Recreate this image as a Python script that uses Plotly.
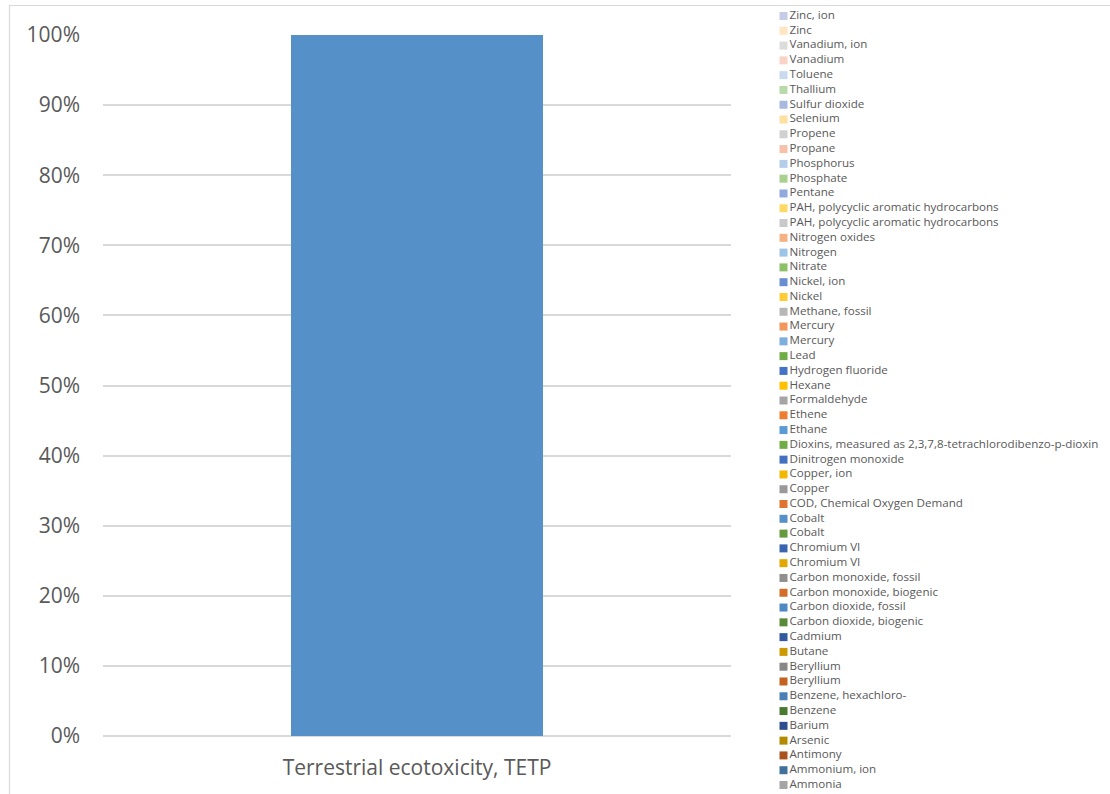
import plotly.graph_objects as go

# Emission flows contributing to terrestrial ecotoxicity (stacked, first = bottom)
category = ["Terrestrial ecotoxicity, TETP"]

flows = [
    "Ammonia", "Ammonium, ion", "Antimony", "Arsenic", "Barium", "Benzene",
    "Benzene, hexachloro-", "Beryllium", "Beryllium", "Butane", "Cadmium",
    "Carbon dioxide, biogenic", "Carbon dioxide, fossil", "Carbon monoxide, biogenic",
    "Carbon monoxide, fossil", "Chromium VI", "Chromium VI", "Cobalt", "Cobalt",
    "COD, Chemical Oxygen Demand", "Copper", "Copper, ion", "Dinitrogen monoxide",
    "Dioxins, measured as 2,3,7,8-tetrachlorodibenzo-p-dioxin", "Ethane", "Ethene",
    "Formaldehyde", "Hexane", "Hydrogen fluoride", "Lead", "Mercury", "Mercury",
    "Methane, fossil", "Nickel", "Nickel, ion", "Nitrate", "Nitrogen", "Nitrogen oxides",
    "PAH, polycyclic aromatic hydrocarbons", "PAH, polycyclic aromatic hydrocarbons",
    "Pentane", "Phosphate", "Phosphorus", "Propane", "Propene", "Selenium",
    "Sulfur dioxide", "Thallium", "Toluene", "Vanadium", "Vanadium, ion", "Zinc", "Zinc, ion",
]

# Share of the impact per flow (%)
shares = [
    0, 0, 0, 0, 0, 0,
    0, 0, 0, 0, 0,
    0, 0, 0,
    0, 0, 0, 0, 100,
    0, 0, 0, 0,
    0, 0, 0,
    0, 0, 0, 0, 0, 0,
    0, 0, 0, 0, 0, 0,
    0, 0,
    0, 0, 0, 0, 0, 0,
    0, 0, 0, 0, 0, 0, 0,
]

colors = [
    "#A5A5A5", "#41709A", "#A9531F", "#B38A00", "#2D4F8E", "#4A7A31",
    "#4A80B5", "#C4611F", "#878787", "#CC9A00", "#335AA1",
    "#5A8A39", "#4F89C4", "#D26C28",
    "#8F8F8F", "#E0A800", "#3B64B0", "#64993D", "#5591C8",
    "#E07330", "#999999", "#F2B700", "#4470C0",
    "#70AD47", "#5B9BD5", "#ED7D31",
    "#A5A5A5", "#FFC000", "#4472C4", "#70AD47", "#7CAFDD", "#F1975A",
    "#B7B7B7", "#FFCD33", "#698ED0", "#8CC168", "#9DC3E6", "#F4B183",
    "#C9C9C9", "#FFD966",
    "#8FAADC", "#A9D18E", "#B4CDE9", "#F7C0A8", "#D0D0D0", "#FFE0A0",
    "#A9B8DE", "#B9D9A8", "#C9DAEF", "#F8D3C6", "#DCDCDC", "#FFE6C0", "#C5CCE8",
]

FONT = "Open Sans, sans-serif"
TEXT = "#595959"
GRID = "#D9D9D9"

W, H = 1110, 794

fig = go.Figure()

for name, val, col in zip(flows, shares, colors):
    fig.add_trace(go.Bar(
        x=category, y=[val], name=name, marker=dict(color=col, line=dict(width=0)),
        showlegend=False, xaxis="x", yaxis="y",
    ))

# Legend column drawn as a square-marker scatter on its own axes
idx = list(range(len(flows)))
fig.add_trace(go.Scatter(
    x=[0] * len(flows), y=idx, mode="markers+text",
    marker=dict(symbol="square", size=8, color=colors, line=dict(width=0)),
    text=flows, textposition="middle right",
    textfont=dict(family=FONT, size=11.6, color=TEXT),
    cliponaxis=False, showlegend=False, hoverinfo="skip",
    xaxis="x2", yaxis="y2",
))

def px_x(p):
    return p / W

def px_y(p):
    return (H - p) / H

fig.update_layout(
    template="none",
    width=W, height=H,
    margin=dict(l=0, r=0, t=0, b=0, pad=0),
    paper_bgcolor="white", plot_bgcolor="white",
    barmode="stack", barnorm="percent", bargap=0.599,
    font=dict(family=FONT, color=TEXT),
    xaxis=dict(
        domain=[px_x(103), px_x(731)], showgrid=False, zeroline=False,
        showline=False, ticks="", tickfont=dict(size=21, color=TEXT),
        ticklabelstandoff=17, fixedrange=True, automargin=False,
    ),
    yaxis=dict(
        domain=[px_y(736), px_y(35)], range=[0, 100], dtick=10,
        ticksuffix="%", showgrid=True, gridcolor=GRID, gridwidth=1.5,
        zeroline=True, zerolinecolor=GRID, zerolinewidth=1.5,
        showline=False, ticks="", tickfont=dict(size=21, color=TEXT),
        ticklabelstandoff=22, fixedrange=True, automargin=False,
    ),
    xaxis2=dict(
        domain=[px_x(783.5), 1.0], range=[0, 10], visible=False,
        fixedrange=True, automargin=False,
    ),
    yaxis2=dict(
        domain=[px_y(785), px_y(16)], range=[0, len(flows) - 1], visible=False,
        anchor="x2", fixedrange=True, automargin=False,
    ),
    shapes=[dict(
        type="rect", xref="paper", yref="paper",
        x0=px_x(9.5), x1=px_x(1120), y0=px_y(805), y1=px_y(5.5),
        line=dict(color=GRID, width=1.2), fillcolor="rgba(0,0,0,0)", layer="below",
    )],
)

fig.write_html("out.html")
